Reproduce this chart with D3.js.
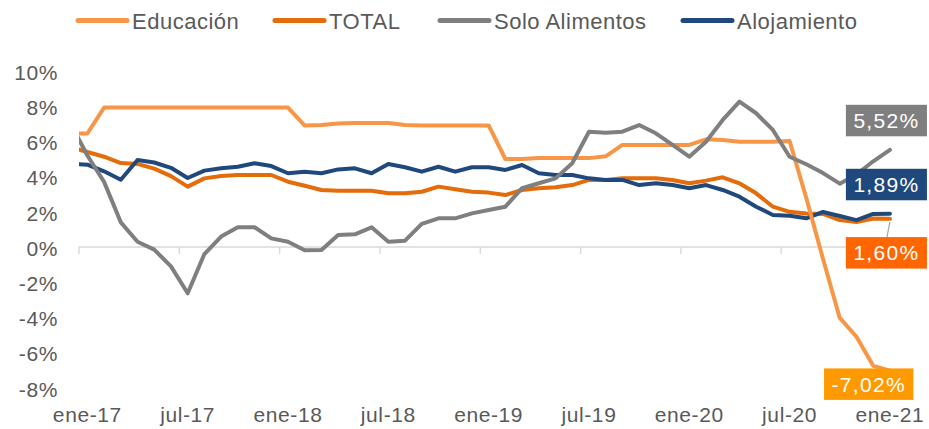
<!DOCTYPE html>
<html><head><meta charset="utf-8">
<script src="https://cdn.jsdelivr.net/npm/d3@7"></script>
<style>
body{margin:0;background:#fff}
svg{display:block}
text{font-family:"Liberation Sans",Arial,sans-serif}
</style>
</head><body>
<svg id="c" width="929" height="429"></svg>
<script>
// Categories (first one, dic-16, lies before the axis start and is clipped, as in the original)
const months = ["dic-16",
  "ene-17","feb-17","mar-17","abr-17","may-17","jun-17","jul-17","ago-17","sep-17","oct-17","nov-17","dic-17",
  "ene-18","feb-18","mar-18","abr-18","may-18","jun-18","jul-18","ago-18","sep-18","oct-18","nov-18","dic-18",
  "ene-19","feb-19","mar-19","abr-19","may-19","jun-19","jul-19","ago-19","sep-19","oct-19","nov-19","dic-19",
  "ene-20","feb-20","mar-20","abr-20","may-20","jun-20","jul-20","ago-20","sep-20","oct-20","nov-20","dic-20",
  "ene-21"];

const educacion = [6.45, 6.45, 7.92, 7.92, 7.92, 7.92, 7.92, 7.92, 7.92, 7.92, 7.92, 7.92, 7.92, 7.92,
  6.9, 6.93, 7.02, 7.05, 7.05, 7.05, 6.93, 6.91, 6.91, 6.91, 6.91, 6.91,
  5.0, 5.0, 5.05, 5.05, 5.05, 5.05, 5.15,
  5.8, 5.8, 5.8, 5.8, 5.8,
  6.12, 6.08, 5.98, 5.98, 5.98, 6.02,
  2.78, -0.68, -4.03, -5.1, -6.75, -7.02];

const total = [5.66, 5.4, 5.13, 4.77, 4.72, 4.45, 4.03, 3.43, 3.9, 4.03,
  4.09, 4.09, 4.09, 3.71, 3.48, 3.24, 3.2, 3.2, 3.2, 3.05,
  3.05, 3.14, 3.43, 3.28, 3.14, 3.09, 2.95, 3.24, 3.34, 3.39,
  3.52, 3.81, 3.81, 3.9, 3.9, 3.9, 3.81, 3.62, 3.77, 3.96,
  3.62, 3.05, 2.29, 2.0, 1.91, 1.88, 1.53, 1.42, 1.62, 1.60];

const alimentos = [7.0, 5.2, 3.7, 1.4, 0.3, -0.15, -1.1, -2.63, -0.4, 0.59,
  1.12, 1.12, 0.49, 0.3, -0.19, -0.17, 0.68, 0.72, 1.12, 0.3,
  0.36, 1.31, 1.63, 1.63, 1.91, 2.1, 2.29, 3.34, 3.62, 3.9,
  4.76, 6.55, 6.49, 6.55, 6.93, 6.46, 5.8, 5.13, 5.98, 7.22,
  8.26, 7.6, 6.65, 5.13, 4.7, 4.2, 3.6, 4.12, 4.87, 5.52];

const alojamiento = [4.72, 4.68, 4.3, 3.82, 4.94, 4.8, 4.5, 3.92, 4.34, 4.47,
  4.56, 4.76, 4.6, 4.19, 4.28, 4.19, 4.41, 4.47, 4.19, 4.72,
  4.53, 4.28, 4.56, 4.28, 4.53, 4.53, 4.38, 4.66, 4.19, 4.09,
  4.09, 3.9, 3.81, 3.81, 3.52, 3.62, 3.52, 3.34, 3.52, 3.24,
  2.86, 2.29, 1.82, 1.78, 1.63, 1.99, 1.76, 1.53, 1.88, 1.89];

const yTicks = [-8, -6, -4, -2, 0, 2, 4, 6, 8, 10];
const xTickLabels = ["ene-17","jul-17","ene-18","jul-18","ene-19","jul-19","ene-20","jul-20","ene-21"];
const legendNames = ["Educación", "TOTAL", "Solo Alimentos", "Alojamiento"];

const colors = {
  "Educación": "#F79646",
  "TOTAL": "#E46C0A",
  "Solo Alimentos": "#7F7F7F",
  "Alojamiento": "#1F497D"
};
const valuesBy = {
  "Educación": educacion,
  "TOTAL": total,
  "Solo Alimentos": alimentos,
  "Alojamiento": alojamiento
};

const svg = d3.select("#c");
const step = 16.72, axisLeftX = 79;
const x = d3.scaleBand().domain(months)
  .range([axisLeftX - step, axisLeftX + (months.length - 1) * step]).padding(0);
const cx = m => x(m) + x.bandwidth() / 2;
const y = d3.scaleLinear().domain([-8, 10]).range([387.8, 71]);
const textCol = "#595959";

// Y axis labels
const ya = svg.append("g").attr("transform", "translate(58,1.5)")
  .call(d3.axisLeft(y).tickValues(yTicks).tickSize(0).tickPadding(0).tickFormat(d => d + "%"));
ya.select(".domain").remove();
ya.selectAll("text").attr("font-size", 21).attr("fill", textCol)
  .attr("font-family", "Liberation Sans, Arial, sans-serif").attr("letter-spacing", 0.6);

// X axis line at 0
const x1 = x.range()[1];
svg.append("line").attr("x1", axisLeftX).attr("x2", x1)
  .attr("y1", y(0)).attr("y2", y(0)).attr("stroke", "#D9D9D9").attr("stroke-width", 1.4);
svg.append("g").selectAll("line").data(xTickLabels).join("line")
  .attr("x1", d => x(d)).attr("x2", d => x(d))
  .attr("y1", y(0)).attr("y2", y(0) + 7).attr("stroke", "#D9D9D9").attr("stroke-width", 1.4);
svg.append("g").selectAll("text").data(xTickLabels).join("text")
  .attr("x", d => cx(d)).attr("y", 422).attr("text-anchor", "middle")
  .attr("font-size", 21).attr("fill", textCol).attr("letter-spacing", 0.6).text(d => d);

// Lines (clipped at axis start)
svg.append("clipPath").attr("id", "plotclip").append("rect")
  .attr("x", axisLeftX).attr("y", 0).attr("width", 929 - axisLeftX).attr("height", 429);
const line = d3.line().x((d, i) => cx(months[i])).y(d => y(d));
const drawOrder = ["TOTAL", "Alojamiento", "Educación", "Solo Alimentos"];
const lg = svg.append("g").attr("clip-path", "url(#plotclip)");
drawOrder.forEach(n => {
  lg.append("path").datum(valuesBy[n]).attr("d", line)
    .attr("fill", "none").attr("stroke", colors[n]).attr("stroke-width", 4)
    .attr("stroke-linejoin", "round").attr("stroke-linecap", "round");
});

// Data labels for the last value
const last = months[months.length - 1];
const fmt = v => d3.format(".2f")(v).replace("\u2212", "-").replace(".", ",") + "%";
const labels = [
  {s: "Solo Alimentos", bg: "#7F7F7F", dx: -3.5, dy: -29.3},
  {s: "Alojamiento", bg: "#1F497D", dx: -3.5, dy: -29.2},
  {s: "TOTAL", bg: "#FF6600", dx: -3.5, dy: 34, leader: true},
  {s: "Educación", bg: "#FF9900", dx: -21.2, dy: 13.6}
];
const h = 31.5;
labels.forEach(L => {
  const v = valuesBy[L.s][months.length - 1];
  const px = cx(last), py = y(v);
  const bx = px + L.dx, by = py + L.dy;
  const g = svg.append("g");
  if (L.leader) {
    g.append("line").attr("x1", px).attr("y1", py + 3).attr("x2", px - 3).attr("y2", by - h / 2)
      .attr("stroke", "#A6A6A6").attr("stroke-width", 1.2);
  }
  const rect = g.append("rect");
  const t = g.append("text").attr("x", bx).attr("y", by + 7.5).attr("text-anchor", "middle")
    .attr("font-size", 21).attr("fill", "#fff").attr("letter-spacing", 1.3).text(fmt(v));
  const w = t.node().getComputedTextLength() + 15;
  rect.attr("x", bx - w / 2).attr("y", by - h / 2).attr("width", w).attr("height", h).attr("fill", L.bg);
});

// Legend
const legendX = [76, 273, 438, 681];
const lgd = svg.append("g");
legendNames.forEach((n, i) => {
  lgd.append("line").attr("x1", legendX[i] + 2).attr("x2", legendX[i] + 51).attr("y1", 20.5).attr("y2", 20.5)
    .attr("stroke", colors[n]).attr("stroke-width", 5).attr("stroke-linecap", "round");
  lgd.append("text").attr("x", legendX[i] + 56).attr("y", 28.5).attr("font-size", 22)
    .attr("fill", textCol).attr("letter-spacing", 0.5).text(n);
});
</script>
</body></html>
